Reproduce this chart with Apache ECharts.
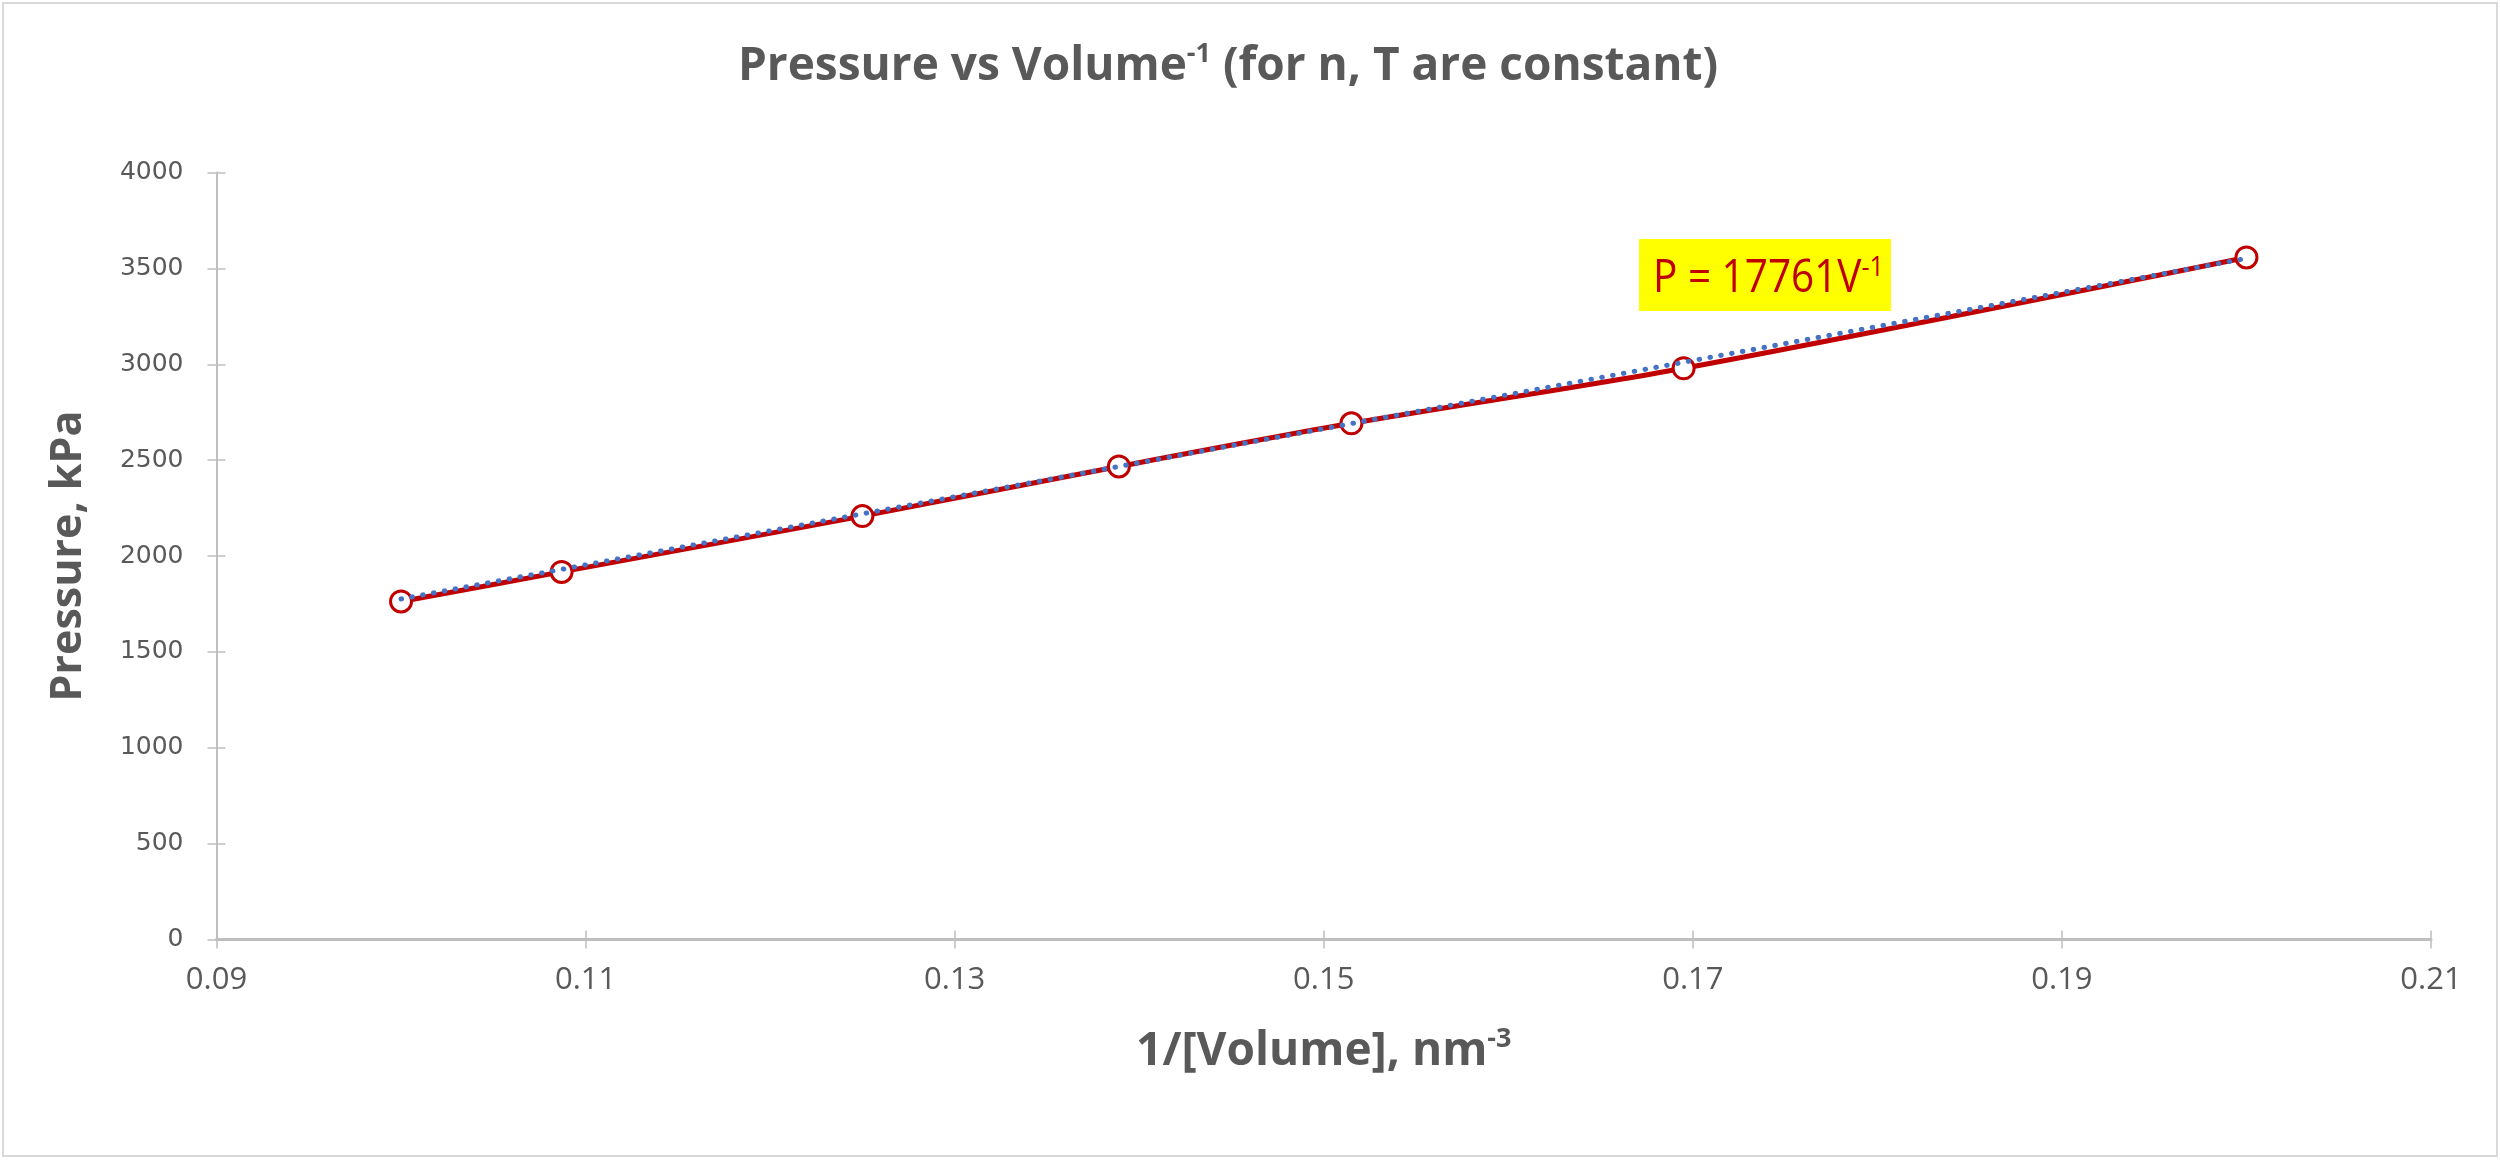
<!DOCTYPE html>
<html><head><meta charset="utf-8">
<script src="https://cdn.jsdelivr.net/npm/echarts@6/dist/echarts.min.js"></script>
<style>html,body{margin:0;padding:0;background:#fff}#c{width:2500px;height:1160px}</style>
</head><body><div id="c"></div>
<script>
// ---- data ----
const invVolume = [0.1000, 0.1087, 0.1250, 0.1389, 0.1515, 0.1695, 0.2000];
const pressure  = [1763, 1917, 2208, 2467, 2692, 2979, 3557];
const trendX = [0.1000, 0.2000];
const trendP = [1776, 3552];
const xTickLabels = ['0.09', '0.11', '0.13', '0.15', '0.17', '0.19', '0.21'];
const yMin = 0, yMax = 4000, yStep = 500;

const condensed = "'Open Sans',sans-serif";
const gray = '#595959';
const axisGray = '#BFBFBF';

const chart = echarts.init(document.getElementById('c'), null, {renderer: 'canvas', width: 2500, height: 1160});

const ptData = invVolume.map((v, i) => [v, pressure[i]]);
const trData = trendX.map((v, i) => [v, trendP[i]]);

const option = {
  animation: false,
  backgroundColor: '#ffffff',
  grid: {left: 216.5, right: 69, top: 172.5, bottom: 220.5},
  xAxis: [
    {type: 'value', min: 0.09, max: 0.21, show: false},
    {type: 'category', data: xTickLabels, boundaryGap: false, position: 'bottom',
     axisLine: {show: true, onZero: false, lineStyle: {color: axisGray, width: 3}},
     axisTick: {show: true, interval: 0, length: 9, lineStyle: {color: axisGray, width: 1.5}},
     axisLabel: {interval: 0, color: gray, fontSize: 31, fontFamily: condensed, margin: 25},
     splitLine: {show: false},
     name: '{a|1/[Volume], nm}{s|-3}', nameLocation: 'middle', nameGap: 86,
     nameTextStyle: {rich: {
       a: {fontSize: 46, fontWeight: 'bold', color: gray, fontFamily: condensed, lineHeight: 52},
       s: {fontSize: 27, fontWeight: 'bold', color: gray, fontFamily: condensed, lineHeight: 52, verticalAlign: 'top', padding: [0, 0, 14, 0]}
     }}},
    {type: 'category', data: xTickLabels, boundaryGap: false, position: 'bottom',
     axisLine: {show: false, onZero: false},
     axisTick: {show: true, inside: true, interval: 0, length: 9, lineStyle: {color: axisGray, width: 1.5}},
     axisLabel: {show: false}, splitLine: {show: false}}
  ],
  yAxis: [
    {type: 'value', min: yMin, max: yMax, interval: yStep, position: 'left',
     axisLine: {show: true, lineStyle: {color: axisGray, width: 2}},
     axisTick: {show: true, length: 9, lineStyle: {color: axisGray, width: 1.5}},
     axisLabel: {color: gray, fontSize: 25, fontFamily: "'DejaVu Sans',sans-serif", margin: 33,
                 formatter: v => String(v)},
     splitLine: {show: false},
     name: 'Pressure, kPa', nameLocation: 'middle', nameRotate: 90, nameGap: 126,
     nameTextStyle: {fontSize: 43, fontWeight: 'bold', color: gray, fontFamily: condensed}},
    {type: 'value', min: yMin, max: yMax, interval: yStep, position: 'left',
     axisLine: {show: false},
     axisTick: {show: true, inside: true, length: 9, lineStyle: {color: axisGray, width: 1.5}},
     axisLabel: {show: false}, splitLine: {show: false}}
  ],
  series: [
    {type: 'line', xAxisIndex: 0, yAxisIndex: 0, data: ptData, smooth: 0.3, z: 2,
     lineStyle: {color: '#C00000', width: 5},
     symbol: 'circle', symbolSize: 21, showAllSymbol: true,
     itemStyle: {color: '#ffffff', borderColor: '#C00000', borderWidth: 3}},
    {type: 'line', xAxisIndex: 0, yAxisIndex: 0, data: trData, z: 5, symbol: 'none',
     lineStyle: {color: '#4472C4', width: 5, type: [0.5, 10.5], cap: 'round'}}
  ],
  graphic: [
    {type: 'rect', shape: {x: 3, y: 3, width: 2494, height: 1153}, silent: true,
     style: {fill: 'none', stroke: '#D9D9D9', lineWidth: 2}},
    {type: 'text', x: 1228, y: 67, silent: true,
     style: {text: '{a|Pressure vs Volume}{s|-1}{a| (for n, T are constant)}', align: 'center', verticalAlign: 'middle',
       rich: {
         a: {fontSize: 46, fontWeight: 'bold', fill: gray, fontFamily: condensed, lineHeight: 52},
         s: {fontSize: 27, fontWeight: 'bold', fill: gray, fontFamily: condensed, lineHeight: 52, verticalAlign: 'top', padding: [0, 0, 14, 0]}
       }}},
    {type: 'rect', shape: {x: 1639, y: 239, width: 252, height: 72}, silent: true, z: 10,
     style: {fill: '#FFFF00'}},
    {type: 'text', x: 1653, y: 279, scaleX: 0.9, silent: true, z: 11,
     style: {text: '{a|P = 17761V}{s|-1}', align: 'left', verticalAlign: 'middle',
       rich: {
         a: {fontSize: 45, fill: '#C00000', fontFamily: condensed, lineHeight: 50},
         s: {fontSize: 28, fill: '#C00000', fontFamily: condensed, lineHeight: 50, verticalAlign: 'top', padding: [0, 0, 14, 0]}
       }}}
  ]
};
chart.setOption(option);
</script>
</body></html>
